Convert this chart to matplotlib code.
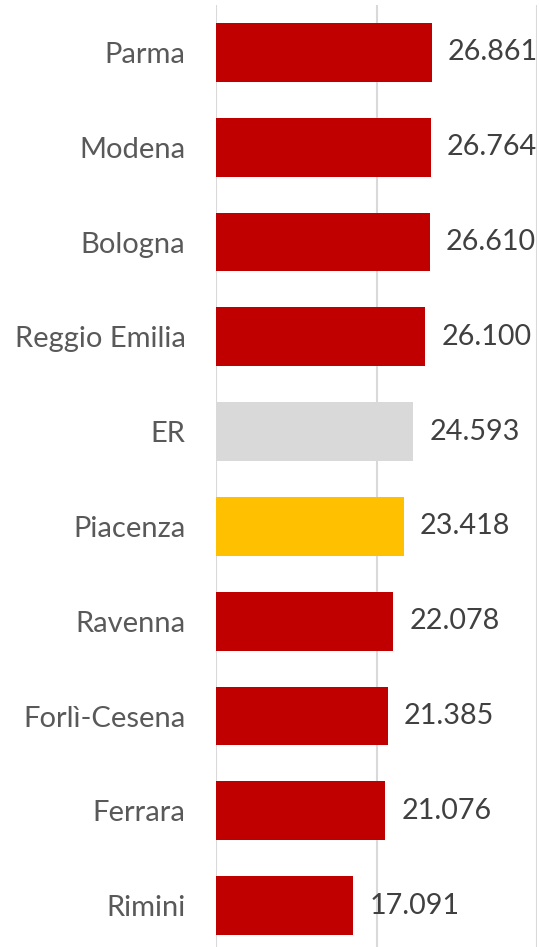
import matplotlib.pyplot as plt
import matplotlib as mpl

mpl.rcParams['font.family'] = ['Lato', 'DejaVu Sans']

provinces = ["Parma", "Modena", "Bologna", "Reggio Emilia", "ER", "Piacenza",
             "Ravenna", "Forlì-Cesena", "Ferrara", "Rimini"]
values = [26861, 26764, 26610, 26100, 24593, 23418, 22078, 21385, 21076, 17091]
colors = ["#C00000", "#C00000", "#C00000", "#C00000", "#D9D9D9", "#FFC000",
          "#C00000", "#C00000", "#C00000", "#C00000"]

W, H = 539, 947
fig = plt.figure(figsize=(W / 100, H / 100), dpi=100)
# axes area in pixels: x 216..537, y 5..953 (bottom slightly below the image)
ax = fig.add_axes([216 / W, (H - 953) / H, (537 - 216) / W, 948 / H])

pos = list(range(len(provinces)))
ax.barh(pos, values, height=0.62, color=colors, zorder=3)
ax.set_ylim(len(provinces) - 0.5, -0.5)
ax.set_xlim(0, 40000)
ax.set_xticks([0, 20000, 40000])
ax.xaxis.grid(True, color="#D9D9D9", lw=1.5, zorder=0)
ax.tick_params(axis="x", length=0, labelbottom=False)
ax.tick_params(axis="y", length=0, pad=22, labelsize=21, labelcolor="#595959")
ax.set_yticks(pos)
ax.set_yticklabels(provinces)
for s in ax.spines.values():
    s.set_visible(False)

for p, v in zip(pos, values):
    lbl = f"{v:,}".replace(",", ".")
    ax.text(v + 2000, p, lbl, va="center", ha="left", fontsize=20.7,
            color="#404040")

fig.savefig("out.png", dpi=100)
